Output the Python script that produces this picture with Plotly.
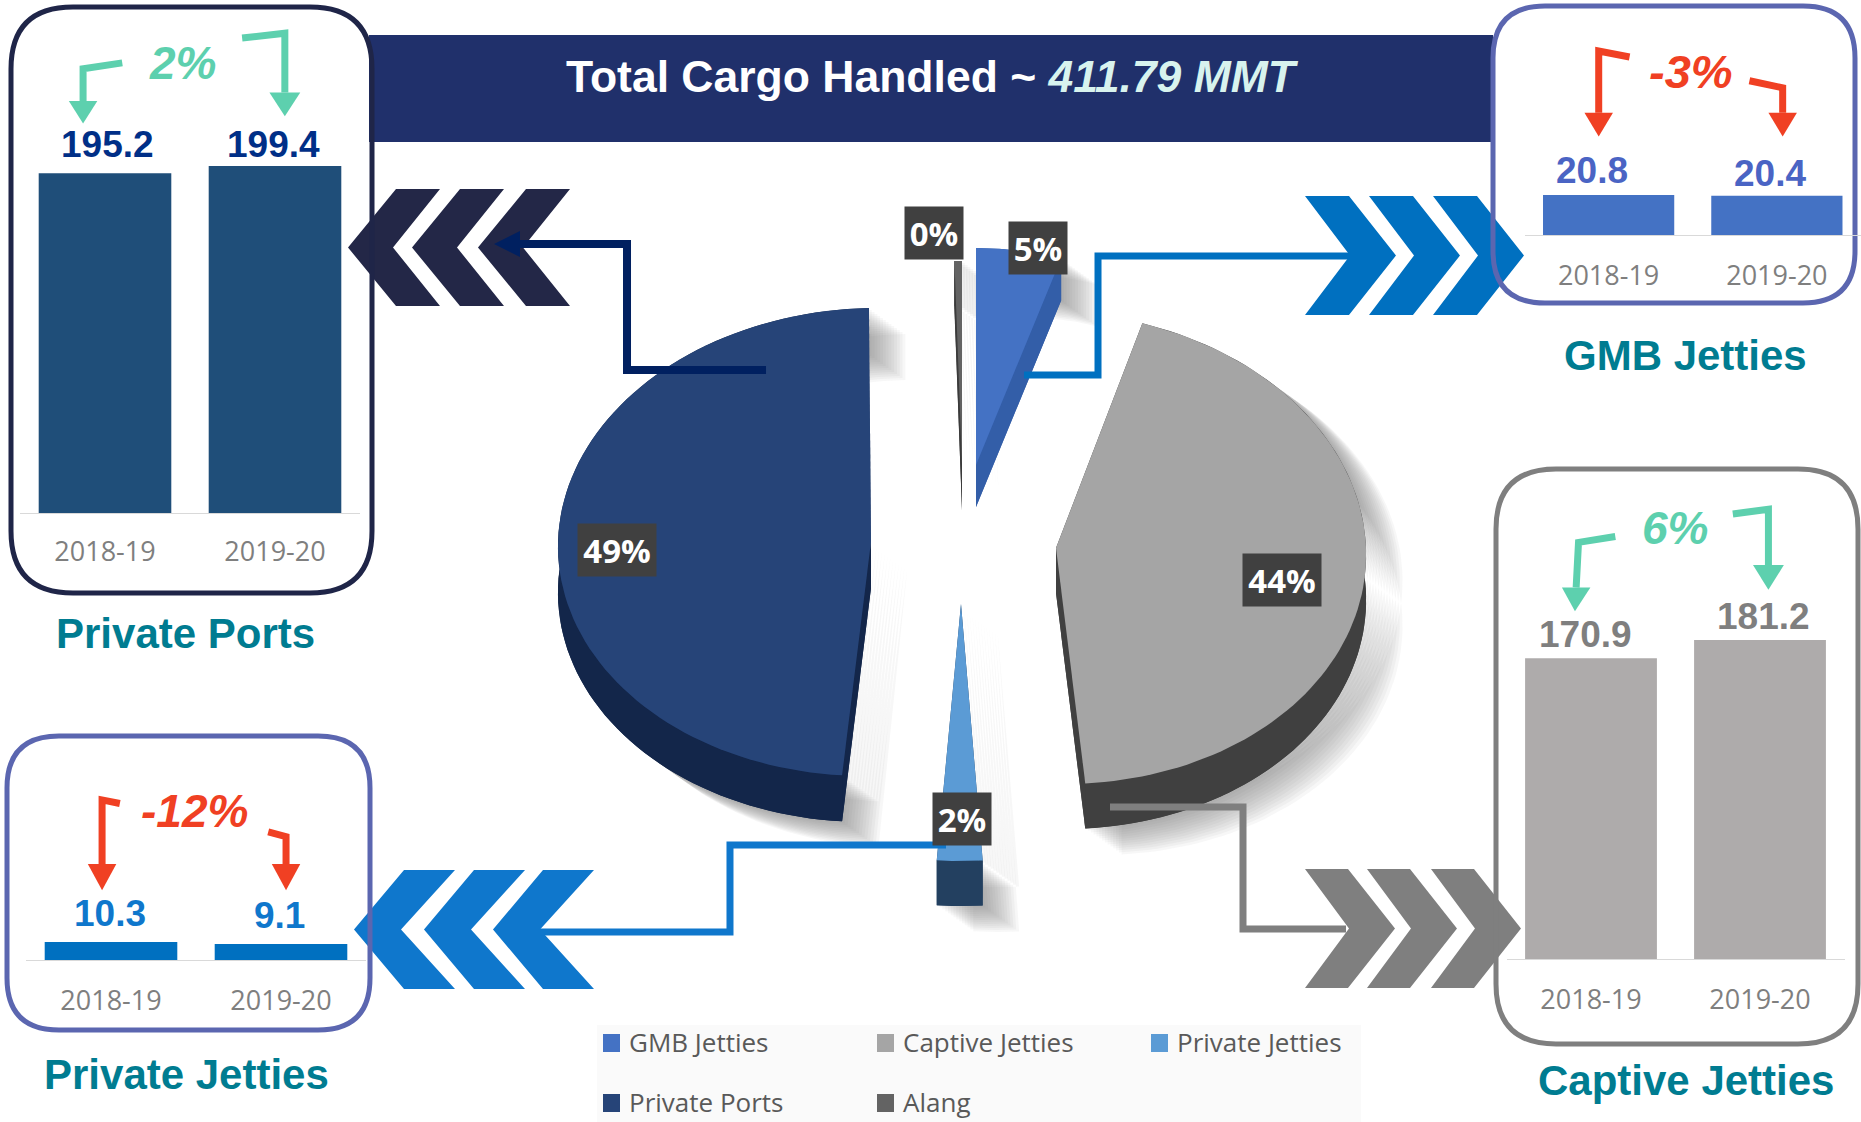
import numpy as np
import plotly.graph_objects as go

# ---------- data ----------
years = ["2018-19", "2019-20"]
private_ports = [195.2, 199.4]
gmb_jetties = [20.8, 20.4]
private_jetties = [10.3, 9.1]
captive_jetties = [170.9, 181.2]

pie_labels = ["GMB Jetties", "Captive Jetties", "Private Jetties", "Private Ports", "Alang"]
pie_values = [20.4, 181.2, 9.1, 199.4, 1.69]
pie_percent_text = ["5%", "44%", "2%", "49%", "0%"]
legend_colors = ["#4472c4", "#a5a5a5", "#5b9bd5", "#264478", "#636363"]

title_main = "Total Cargo Handled ~ "
title_value = "411.79 MMT"

W, H = 1861, 1122
O = 1861 / 1568  # overview-to-full scale
FONT = "Liberation Sans"
TICK = "Open Sans"
LABEL = "Open Sans"


def X(p):
    return p / W


def Y(p):
    return 1 - p / H


shapes, annos = [], []


def poly(points, color, layer="below"):
    d = "M " + " L ".join(f"{X(a):.5f},{Y(b):.5f}" for a, b in points) + " Z"
    shapes.append(dict(type="path", path=d, xref="paper", yref="paper", fillcolor=color,
                       line=dict(width=0), layer=layer))


def polyline(points, color, width, layer="above"):
    d = "M " + " L ".join(f"{X(a):.5f},{Y(b):.5f}" for a, b in points)
    shapes.append(dict(type="path", path=d, xref="paper", yref="paper",
                       line=dict(color=color, width=width), layer=layer))


def rbox(x0, y0, x1, y1, r, color, width=5):
    d = (f"M {X(x0+r)},{Y(y0)} L {X(x1-r)},{Y(y0)} Q {X(x1)},{Y(y0)} {X(x1)},{Y(y0+r)} "
         f"L {X(x1)},{Y(y1-r)} Q {X(x1)},{Y(y1)} {X(x1-r)},{Y(y1)} "
         f"L {X(x0+r)},{Y(y1)} Q {X(x0)},{Y(y1)} {X(x0)},{Y(y1-r)} "
         f"L {X(x0)},{Y(y0+r)} Q {X(x0)},{Y(y0)} {X(x0+r)},{Y(y0)} Z")
    shapes.append(dict(type="path", path=d, xref="paper", yref="paper",
                       line=dict(color=color, width=width), layer="below"))


def text(x, y, s, size, color, family=FONT, **kw):
    annos.append(dict(x=X(x), y=Y(y), xref="paper", yref="paper", text=s, showarrow=False,
                      font=dict(family=family, size=size, color=color),
                      xanchor=kw.pop("xanchor", "center"), yanchor="middle", **kw))


# ---------- banner ----------
poly([(369, 35), (1493, 35), (1493, 142), (369, 142)], "#20306b")
text(932, 76, f"<b>{title_main}</b><b><i><span style='color:#d8f3ee'>{title_value}</span></i></b>", 44.5, "#ffffff")


# ---------- chevrons (drawn before the rounded boxes) ----------
def chev_right(x0, top, bot, color, arm=44, tip=91):
    mid = (top + bot) / 2
    poly([(x0, top), (x0 + arm, top), (x0 + tip, mid), (x0 + arm, bot), (x0, bot), (x0 + arm + 1, mid)], color)


def chev_left(xtip, top, bot, color, a=48, b=92):
    mid = (top + bot) / 2
    poly([(xtip, mid), (xtip + a, top), (xtip + b, top), (xtip + a - 3, mid), (xtip + b, bot), (xtip + a, bot)], color)


for x0 in (1305, 1369, 1433):
    chev_right(x0, 196, 315, "#0070c0")
for x0 in (1305, 1367, 1431):
    chev_right(x0, 869, 988, "#7f7f7f", arm=43, tip=90)
for xt in (348, 412, 478):
    chev_left(xt, 189, 306, "#232747")
for xt in (354, 424, 493):
    chev_left(xt, 870, 989, "#0f77cc", a=50, b=101)

# ---------- rounded boxes ----------
rbox(11, 7, 372, 593, 62, "#1f2548", 5)
rbox(1493, 6, 1855, 303, 52, "#5b66b0", 5)
rbox(1496, 469, 1858, 1044, 60, "#7f7f7f", 5)
rbox(7, 736, 370, 1030, 52, "#5b66b0", 5)

# ---------- legend block ----------
poly([(597, 1025), (1361, 1025), (1361, 1122), (597, 1122)], "#fafafa")
leg_pos = [(603, 1043), (877, 1043), (1151, 1043), (603, 1103), (877, 1103)]
for name, col, (lx, ly) in zip(pie_labels, legend_colors, leg_pos):
    poly([(lx, ly - 9), (lx + 17, ly - 9), (lx + 17, ly + 9), (lx, ly + 9)], col)
    text(lx + 24, ly - 1, name, 26, "#595959", family="Open Sans", xanchor="left")

fig = go.Figure()

# ---------- exploded 3-D style pie, angles derived from pie_values ----------
pie_style = {
    "GMB Jetties": dict(ax=976, ay=465, rx=278, ry=217, d=42, skew=0, top="#4472c4", side="#335ea8"),
    "Captive Jetties": dict(ax=1056, ay=548, rx=310, ry=236, d=45, skew=-9, top="#a5a5a5", side="#404040"),
    "Private Jetties": dict(ax=961, ay=604, rx=331, ry=257, d=45, skew=0, top="#5b9bd5", side="#234060"),
    "Private Ports": dict(ax=871, ay=542, rx=313, ry=234, d=46, skew=6, top="#264478", side="#13264a"),
    "Alang": dict(ax=962, ay=465, rx=300, ry=204, d=45, skew=0, top="#636363", side="#3b3b3b"),
}
total = sum(pie_values)
edges = np.cumsum([0] + pie_values) / total * 2 * np.pi


def wedge(st, a0, a1, dy=0.0, dx=0.0):
    t = np.linspace(a0, a1, 90)
    xs = st["ax"] + dx + st["rx"] * np.sin(t) + st["skew"] * np.cos(t)
    ys = st["ay"] + dy - st["ry"] * np.cos(t)
    return xs, ys


def add_poly(px, py, color, name):
    fig.add_trace(go.Scatter(x=list(px) + [px[0]], y=list(py) + [py[0]], mode="lines", fill="toself",
                             fillcolor=color, line=dict(width=0), hoverinfo="skip", showlegend=False,
                             name=name, xaxis="x", yaxis="y"))


# soft drop shadows: one stack of faint offset silhouettes per slice
for k in range(14):
    for i, lab in enumerate(pie_labels):
        st = pie_style[lab]
        a0, a1 = edges[i], edges[i + 1]
        sx, sy = 2.8 * k, 2.0 * k
        xa, ya = wedge(st, a0, a1, dy=st["d"] + sy, dx=sx)
        xb, yb = wedge(st, a0, a1, dy=sy, dx=sx)
        ox = np.r_[st["ax"] + sx, xb, xa[::-1]]
        oy = np.r_[st["ay"] + sy, yb, ya[::-1]]
        add_poly(ox, oy, "rgba(110,110,110,0.055)", "shadow")

for i, lab in enumerate(pie_labels):
    st = pie_style[lab]
    a0, a1 = edges[i], edges[i + 1]
    xt, yt = wedge(st, a0, a1)
    xb, yb = wedge(st, a0, a1, dy=st["d"])
    add_poly(np.r_[st["ax"], xb], np.r_[st["ay"] + st["d"], yb], st["side"], lab + " base")
    add_poly(np.r_[xt, xb[::-1]], np.r_[yt, yb[::-1]], st["side"], lab + " rim")
    add_poly(np.array([st["ax"], xt[0], xb[0], st["ax"]]), np.array([st["ay"], yt[0], yb[0], st["ay"] + st["d"]]),
             st["side"], lab + " cut")
    add_poly(np.array([st["ax"], xt[-1], xb[-1], st["ax"]]), np.array([st["ay"], yt[-1], yb[-1], st["ay"] + st["d"]]),
             st["side"], lab + " cut")
    add_poly(np.r_[st["ax"], xt], np.r_[st["ay"], yt], st["top"], lab)

# percent tags
tag_pos = {"GMB Jetties": (1038, 248), "Captive Jetties": (1282, 580), "Private Jetties": (962, 819),
           "Private Ports": (617, 550), "Alang": (934, 233)}
for lab, pct in zip(pie_labels, pie_percent_text):
    tx, ty = tag_pos[lab]
    w = 76 if len(pct) == 3 else 56
    text(tx, ty, f"<b>{pct}</b>", 33, "#ffffff", family=LABEL, bgcolor="#404040", width=w, height=50, valign="middle")

# connectors
polyline([(766, 370), (627, 370), (627, 244), (505, 244)], "#002060", 8)
poly([(494, 244), (520, 231), (520, 257)], "#002060", layer="above")
polyline([(1024, 375), (1098, 375), (1098, 256), (1352, 256)], "#0070c0", 7)
polyline([(1110, 807), (1243, 807), (1243, 929), (1346, 929)], "#7f7f7f", 7)
polyline([(946, 845), (730, 845), (730, 932), (540, 932)], "#0f77cc", 7)

# ---------- trend arrows (overview coordinates) ----------
GREEN, RED = "#5dd0ae", "#f04023"


def trend(points, tip, half, color):
    polyline([(a * O, b * O) for a, b in points], color, 7, layer="below")
    bx, by = points[-1]
    poly([(tip[0] * O, tip[1] * O), ((bx - half) * O, by * O), ((bx + half) * O, by * O)], color)


trend([(103, 53), (70, 58), (70, 85)], (70, 104), 12, GREEN)
trend([(204, 32), (240, 28), (240, 78)], (240, 98), 13, GREEN)
text(154 * O, 53 * O, "<b><i>2%</i></b>", 46, GREEN)

trend([(1373, 48), (1347, 43), (1347, 95)], (1347, 115), 12, RED)
trend([(1474, 68), (1502, 74), (1502, 95)], (1502, 115), 12, RED)
text(1425 * O, 60 * O, "<b><i>-3%</i></b>", 47, RED)

trend([(101, 677), (86, 674), (86, 728)], (86, 750), 12, RED)
trend([(226, 701), (241, 705), (241, 728)], (241, 750), 12, RED)
text(164 * O, 683 * O, "<b><i>-12%</i></b>", 46, RED)

trend([(1361, 452), (1330, 457), (1328, 495)], (1327, 515), 12, GREEN)
trend([(1460, 433), (1490, 429), (1490, 476)], (1490, 497), 13, GREEN)
text(1411 * O, 445 * O, "<b><i>6%</i></b>", 46, GREEN)

# ---------- bar panels ----------
panels = [
    dict(vals=private_ports, color="#1f4e79", txt="#002f87", x0=20, x1=360, base=513, scale=1.74, ymax=230,
         shifts=[(2, 2), (-2, -5)], gap=4, ticky=547, title="Private Ports", tx=185, ty=633),
    dict(vals=gmb_jetties, color="#4472c4", txt="#4a64c4", x0=1524.5, x1=1861, base=235, scale=1.92, ymax=30,
         shifts=[(-17, 1), (-7, -1)], gap=1, ticky=271, title="GMB Jetties", tx=1685, ty=356),
    dict(vals=captive_jetties, color="#aeabab", txt="#7f7f7f", x0=1506.5, x1=1844.5, base=959, scale=1.76, ymax=220,
         shifts=[(-6, 5), (3, 5)], gap=-4, ticky=995, title="Captive Jetties", tx=1686, ty=1080),
    dict(vals=private_jetties, color="#0070c0", txt="#0f77cc", x0=26, x1=366, base=960, scale=1.75, ymax=30,
         shifts=[(-1, 3), (-2, 3)], gap=3, ticky=996, title="Private Jetties", tx=186, ty=1074),
]
layout_axes = {}
for n, p in enumerate(panels, start=2):
    top = p["base"] - p["ymax"] * p["scale"]
    xa, ya = f"x{n}", f"y{n}"
    fig.add_trace(go.Bar(x=years, y=p["vals"], marker=dict(color=p["color"], line=dict(width=0)),
                         width=0.78, xaxis=xa, yaxis=ya, showlegend=False, name=p["title"]))
    layout_axes[f"xaxis{n}"] = dict(domain=[X(p["x0"]), X(p["x1"])], anchor=ya, showgrid=False, zeroline=False,
                                    showline=True, linecolor="#d9d9d9", linewidth=1, ticks="",
                                    ticklabelstandoff=p["ticky"] - p["base"] - 19,
                                    tickfont=dict(family=TICK, size=27, color="#7f7f7f"), type="category")
    layout_axes[f"yaxis{n}"] = dict(domain=[Y(p["base"]), Y(top)], anchor=xa, range=[0, p["ymax"]],
                                    visible=False, showgrid=False, zeroline=False)
    for yr, v, (sx, sy) in zip(years, p["vals"], p["shifts"]):
        annos.append(dict(x=yr, y=v, xref=xa, yref=ya, text=f"<b>{v}</b>", showarrow=False, yanchor="bottom",
                          xshift=sx, yshift=p["gap"] + sy,
                          font=dict(family=FONT, size=37, color=p["txt"])))
    text(p["tx"], p["ty"], f"<b>{p['title']}</b>", 42, "#007c91")

fig.update_layout(
    width=W, height=H, margin=dict(l=0, r=0, t=0, b=0), paper_bgcolor="#ffffff", plot_bgcolor="rgba(0,0,0,0)",
    showlegend=False, bargap=0.22,
    xaxis=dict(domain=[0, 1], range=[0, W], visible=False, fixedrange=True),
    yaxis=dict(domain=[0, 1], range=[H, 0], visible=False, fixedrange=True),
    shapes=shapes, annotations=annos, **layout_axes,
)
fig.write_html("out.html", post_script="document.body.style.margin='0';document.body.style.overflow='hidden';",
               config={"displayModeBar": False})
